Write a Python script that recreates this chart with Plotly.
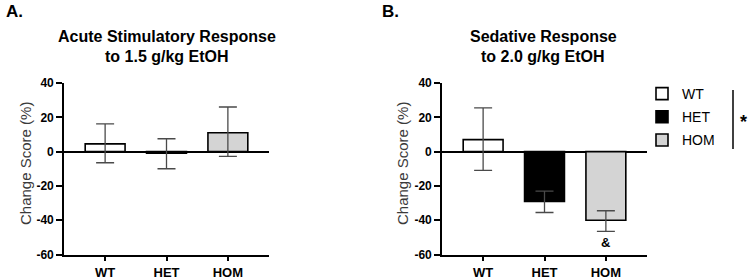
import plotly.graph_objects as go

# ---- data ----
groups = ["WT", "HET", "HOM"]
fills = ["#ffffff", "#000000", "#d4d4d4"]

stim_mean = [4.5, -1.0, 11.0]
stim_upper = [16.2, 7.5, 26.0]
stim_lower = [-6.5, -10.0, -2.8]

sed_mean = [7.0, -29.0, -40.0]
sed_upper = [25.5, -23.0, -34.5]
sed_lower = [-11.0, -35.5, -46.5]

yticks = [-60, -40, -20, 0, 20, 40]
ytitle = "Change Score (%)"
titles = [["Acute Stimulatory Response", "to 1.5 g/kg EtOH"],
          ["Sedative Response", "to 2.0 g/kg EtOH"]]

FONT = "Liberation Sans, Arial, sans-serif"
W, H = 751, 280

fig = go.Figure()

def add_panel(means, upper, lower, xa, ya, legend):
    for g, m, u, l, c in zip(groups, means, upper, lower, fills):
        fig.add_trace(go.Bar(
            x=[g], y=[m], name=g, xaxis=xa, yaxis=ya,
            width=0.65,
            marker=dict(color=c, line=dict(color="#000000", width=1.6)),
            error_y=dict(type="data", symmetric=False,
                         array=[u - m], arrayminus=[m - l],
                         color="#4a4a4a", thickness=1.3, width=9),
            showlegend=legend, legendgroup=g,
        ))

add_panel(stim_mean, stim_upper, stim_lower, "x", "y", False)
add_panel(sed_mean, sed_upper, sed_lower, "x2", "y2", True)

ydom = [1 - 254.5 / H, 1 - 83 / H]
xdoms = [[64 / W, 269 / W], [442 / W, 647 / W]]

axis_common_x = dict(
    type="category", categoryorder="array", categoryarray=groups,
    range=[-0.67, 2.67], showline=True, linecolor="#000000", linewidth=1.6,
    ticks="outside", ticklen=5, tickwidth=1.6, tickcolor="#000000",
    tickfont=dict(family=FONT, size=13, color="#000000", weight="bold"),
    showgrid=False, zeroline=False, fixedrange=True, automargin=False,
)
axis_common_y = dict(
    range=[-60, 40], tickvals=yticks, ticktext=[str(v) for v in yticks],
    showline=True, linecolor="#000000", linewidth=1.6,
    ticks="outside", ticklen=6, tickwidth=1.6, tickcolor="#000000",
    tickfont=dict(family=FONT, size=12, color="#000000", weight="bold"),
    showgrid=False, zeroline=True, zerolinecolor="#000000", zerolinewidth=1.6,
    domain=ydom, automargin=False, fixedrange=True,
)

fig.update_layout(
    width=W, height=H,
    margin=dict(l=0, r=0, t=0, b=0, autoexpand=False),
    paper_bgcolor="#ffffff", plot_bgcolor="#ffffff",
    barmode="overlay",
    xaxis=dict(**axis_common_x, domain=xdoms[0], anchor="y"),
    yaxis=dict(**axis_common_y, anchor="x"),
    xaxis2=dict(**axis_common_x, domain=xdoms[1], anchor="y2"),
    yaxis2=dict(**axis_common_y, anchor="x2"),
    legend=dict(x=642 / W, y=1 - 78 / H, xanchor="left", yanchor="top",
                font=dict(family=FONT, size=14, color="#000000"),
                tracegroupgap=2, bgcolor="rgba(0,0,0,0)"),
    showlegend=True,
)

ann = []
# panel letters
ann.append(dict(text="<b>A.</b>", x=4 / W, y=1 - 12 / H, xref="paper", yref="paper",
                xanchor="left", yanchor="middle", showarrow=False,
                font=dict(family=FONT, size=17, color="#000000")))
ann.append(dict(text="<b>B.</b>", x=380 / W, y=1 - 12 / H, xref="paper", yref="paper",
                xanchor="left", yanchor="middle", showarrow=False,
                font=dict(family=FONT, size=17, color="#000000")))
# titles
for cx, lines in zip([166.5, 543], titles):
    for yy, line in zip([37, 57], lines):
        ann.append(dict(text="<b>" + line + "</b>", x=cx / W, y=1 - yy / H,
                        xref="paper", yref="paper", xanchor="center", yanchor="middle",
                        showarrow=False, font=dict(family=FONT, size=16, color="#000000")))
# y-axis titles
for tx in [25, 402]:
    ann.append(dict(text=ytitle, x=tx / W, y=1 - 164 / H, xref="paper", yref="paper",
                    xanchor="center", yanchor="middle", textangle=-90, showarrow=False,
                    font=dict(family=FONT, size=15, color="#3a3a3a")))
# & marker under HOM in panel B
ann.append(dict(text="<b>&</b>", x="HOM", y=-53, xref="x2", yref="y2",
                xanchor="center", yanchor="middle", showarrow=False,
                font=dict(family=FONT, size=13, color="#000000")))
# asterisk next to legend bracket
ann.append(dict(text="<b>*</b>", x=743 / W, y=1 - 122 / H, xref="paper", yref="paper",
                xanchor="center", yanchor="middle", showarrow=False,
                font=dict(family=FONT, size=18, color="#000000")))
fig.update_layout(annotations=ann)

fig.add_shape(type="line", xref="paper", yref="paper",
              x0=733 / W, x1=733 / W, y0=1 - 90 / H, y1=1 - 149 / H,
              line=dict(color="#000000", width=1.5))

fig.write_html("out.html", config={"displayModeBar": False},
               post_script="document.body.style.margin='0';document.body.style.overflow='hidden';")
